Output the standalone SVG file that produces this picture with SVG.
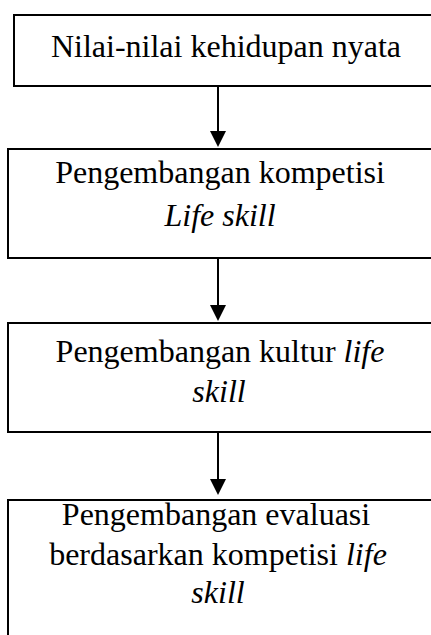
<svg xmlns="http://www.w3.org/2000/svg" width="431" height="635" viewBox="0 0 431 635">
<style>
.box{fill:#fff;stroke:#000;stroke-width:2}
.t{font-family:"Liberation Serif","Times New Roman",serif;font-size:32px;fill:#000;text-anchor:middle}
.i{font-style:italic}
.c{stroke:#000;stroke-width:2;fill:none}
</style>
<rect width="431" height="635" fill="#fff"/>
<g id="connectors">
<line class="c" x1="218" y1="86" x2="218" y2="131"/>
<path d="M210,131 L226,131 L218,147 Z" fill="#000"/>
<line class="c" x1="218" y1="258" x2="218" y2="305"/>
<path d="M210,305 L226,305 L218,321 Z" fill="#000"/>
<line class="c" x1="218" y1="432" x2="218" y2="479"/>
<path d="M210,479 L226,479 L218,495 Z" fill="#000"/>
</g>
<g id="node1">
<rect class="box" x="14" y="15" width="430" height="71"/>
<text class="t" x="226" y="57">Nilai-nilai kehidupan nyata</text>
</g>
<g id="node2">
<rect class="box" x="8" y="149" width="430" height="109"/>
<text class="t" x="220" y="183">Pengembangan kompetisi</text>
<text class="t i" x="220" y="226">Life skill</text>
</g>
<g id="node3">
<rect class="box" x="8" y="323" width="430" height="109"/>
<text class="t" x="220" y="362">Pengembangan kultur <tspan class="i">life</tspan></text>
<text class="t i" x="219" y="402">skill</text>
</g>
<g id="node4">
<rect class="box" x="8" y="500" width="430" height="150"/>
<text class="t" x="216" y="525">Pengembangan evaluasi</text>
<text class="t" x="218" y="565">berdasarkan kompetisi <tspan class="i">life</tspan></text>
<text class="t i" x="218" y="603">skill</text>
</g>
</svg>
